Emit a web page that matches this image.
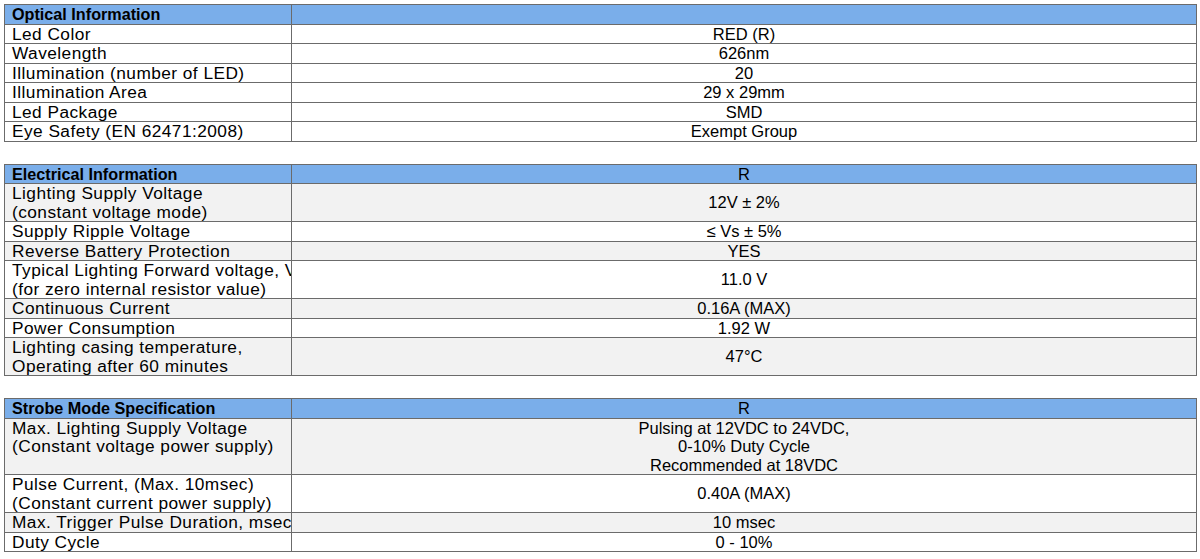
<!DOCTYPE html>
<html>
<head>
<meta charset="utf-8">
<script src="https://cdn.jsdelivr.net/npm/chart.js@4"></script>
<style>
  body { margin: 0; background: #fff; font-family: "Liberation Sans", Arial, sans-serif; font-size: 16.5px; color: #000; }
  #wrap { position: absolute; left: 4px; top: 4px; width: 1193px; }
  table { border-collapse: collapse; width: 1193px; table-layout: fixed; margin-bottom: 22px; }
  td { border: 1px solid #6b6b6b; padding: 0 0 0 7px; line-height: 18.5px; vertical-align: middle; white-space: nowrap; overflow: hidden; }
  td.l { font-size: 17.3px; letter-spacing: 0.45px; }
  td.v { text-align: center; padding: 0; }
  tr.h td { background: #7aaeea; }
  tr.h td.l { font-weight: bold; font-size: 16.2px; letter-spacing: 0; }
  tr.g td { background: #f2f2f2; }
</style>
</head>
<body>
<div id="wrap"></div>
<script>
// table contents
const opticalHeader = ['Optical Information', ''];
const opticalLabels = ['Led Color', 'Wavelength', 'Illumination (number of LED)', 'Illumination Area', 'Led Package', 'Eye Safety (EN 62471:2008)'];
const opticalValues = ['RED (R)', '626nm', '20', '29 x 29mm', 'SMD', 'Exempt Group'];

const electricalHeader = ['Electrical Information', 'R'];
const electricalLabels = ['Lighting Supply Voltage\n(constant voltage mode)', 'Supply Ripple Voltage', 'Reverse Battery Protection',
    'Typical Lighting Forward voltage, Vf\n(for zero internal resistor value)', 'Continuous Current', 'Power Consumption',
    'Lighting casing temperature,\nOperating after 60 minutes'];
const electricalValues = ['12V ± 2%', '≤ Vs ± 5%', 'YES', '11.0 V', '0.16A (MAX)', '1.92 W', '47°C'];

const strobeHeader = ['Strobe Mode Specification', 'R'];
const strobeLabels = ['Max. Lighting Supply Voltage\n(Constant voltage power supply)\n', 'Pulse Current, (Max. 10msec)\n(Constant current power supply)',
    'Max. Trigger Pulse Duration, msec', 'Duty Cycle'];
const strobeValues = ['Pulsing at 12VDC to 24VDC,\n0-10% Duty Cycle\nRecommended at 18VDC', '0.40A (MAX)', '10 msec', '0 - 10%'];

function esc(s) {
    return s.replace(/&/g, '&amp;').replace(/</g, '&lt;').split('\n').map(x => x || '&nbsp;').join('<br>');
}

function buildTable(header, labels, values, striped) {
    let html = '<table><colgroup><col style="width:287px"><col></colgroup>';
    html += `<tr class="h"><td class="l">${esc(header[0])}</td><td class="v">${esc(header[1]) || '&nbsp;'}</td></tr>`;
    labels.forEach((label, i) => {
        const cls = striped && i % 2 === 0 ? ' class="g"' : '';
        html += `<tr${cls}><td class="l">${esc(label)}</td><td class="v">${esc(values[i])}</td></tr>`;
    });
    return html + '</table>';
}

document.getElementById('wrap').innerHTML =
    buildTable(opticalHeader, opticalLabels, opticalValues, false) +
    buildTable(electricalHeader, electricalLabels, electricalValues, true) +
    buildTable(strobeHeader, strobeLabels, strobeValues, true);
</script>
</body>
</html>
